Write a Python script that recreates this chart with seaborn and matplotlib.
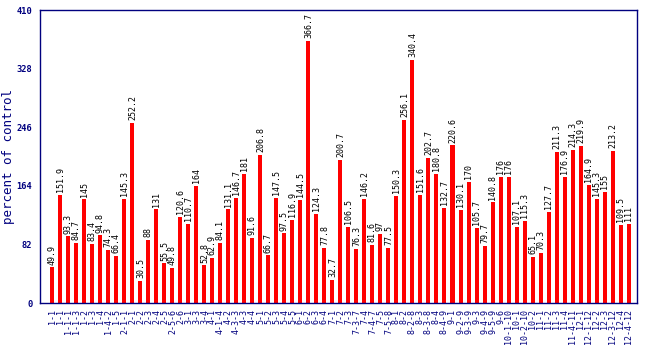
import matplotlib
matplotlib.use("Agg")
import matplotlib.pyplot as plt
import seaborn as sns
import pandas as pd

# sample labels, one per bar (labels repeat, so bars are placed by position)
labels = [
    "1-1", "1-1", "1-1-1", "1-1-3", "1-2", "1-3", "1-4", "1-4-2", "1-5",
    "2-1-1", "2-1", "2-2", "2-3", "2-4", "2-5", "2-5-6", "2-6",
    "3-1", "3-3", "3-4",
    "4-1", "4-1-4", "4-2", "4-3-3", "4-3", "4-4",
    "5-1", "5-2", "5-3", "5-4", "5-5",
    "6-1", "6-2", "6-3", "6-4",
    "7-1", "7-2", "7-3", "7-3-7", "7-4", "7-4-7", "7-5", "7-5-8",
    "8-1", "8-2", "8-2-8", "8-3", "8-3-8", "8-4", "8-4-9",
    "9-1", "9-2-9", "9-3-9", "9-3", "9-4-9", "9-5-9", "9-6",
    "10-1-10", "10-1", "10-2-10", "10-2",
    "11-1", "11-2", "11-3", "11-4", "11-4-11",
    "12-1", "12-1-12", "12-2", "12-3", "12-3-12", "12-4", "12-4-12",
]

values = [
    49.9, 151.9, 93.3, 84.7, 145, 83.4, 94.8, 74.3, 66.4, 145.3,
    252.2, 30.5, 88, 131, 55.5, 49.8, 120.6, 110.7, 164, 52.8,
    62.9, 84.1, 131.1, 146.7, 181, 91.6, 206.8, 66.7, 147.5, 97.5,
    116.9, 144.5, 366.7, 124.3, 77.8, 32.7, 200.7, 106.5, 76.3, 146.2,
    81.6, 97, 77.5, 150.3, 256.1, 340.4, 151.6, 202.7, 180.8, 132.7,
    220.6, 130.1, 170, 105.7, 79.7, 140.8, 176, 176, 107.1, 115.3,
    65.1, 70.3, 127.7, 211.3, 176.9, 214.3, 219.9, 164.9, 145.3, 155,
    213.2, 109.5, 111,
]

y_ticks = [0, 82, 164, 246, 328, 410]

navy = "#00007f"
df = pd.DataFrame({"pos": range(len(values)), "value": values})

sns.set_style("white")
fig = plt.figure(figsize=(6.5, 3.5), dpi=100)
ax = fig.add_axes([0.0615, 0.134, 0.9185, 0.837])

sns.barplot(data=df, x="pos", y="value", color="#ff0000", saturation=1,
            width=0.5, ax=ax, native_scale=True, edgecolor="none")

for x, v in zip(df["pos"], df["value"]):
    ax.text(x, v + 4, f"{v:g}", rotation=90, ha="center", va="bottom",
            fontsize=6, family="DejaVu Sans Mono", color="black")

ax.set_xlim(-1.56, len(values) - 1 + 1.06)
ax.set_ylim(0, 410)
ax.set_yticks(y_ticks)
ax.set_yticklabels([str(t) for t in y_ticks], fontsize=6.3, fontweight="bold",
                   family="DejaVu Sans Mono", color=navy)
ax.set_xticks(list(df["pos"]))
ax.set_xticklabels(labels, rotation=90, fontsize=6,
                   family="DejaVu Sans Mono", color=navy)
ax.tick_params(axis="both", colors=navy, length=4, width=1, direction="out",
               pad=1.5)
ax.tick_params(axis="x", length=3)
ax.set_xlabel("")
ax.set_ylabel("percent of control", fontsize=9, family="DejaVu Sans Mono",
              color=navy)
ax.yaxis.set_label_coords(-0.041, 0.5)
for s in ax.spines.values():
    s.set_color(navy)
    s.set_linewidth(1)
    s.set_visible(True)

fig.savefig("out.png", dpi=100)
